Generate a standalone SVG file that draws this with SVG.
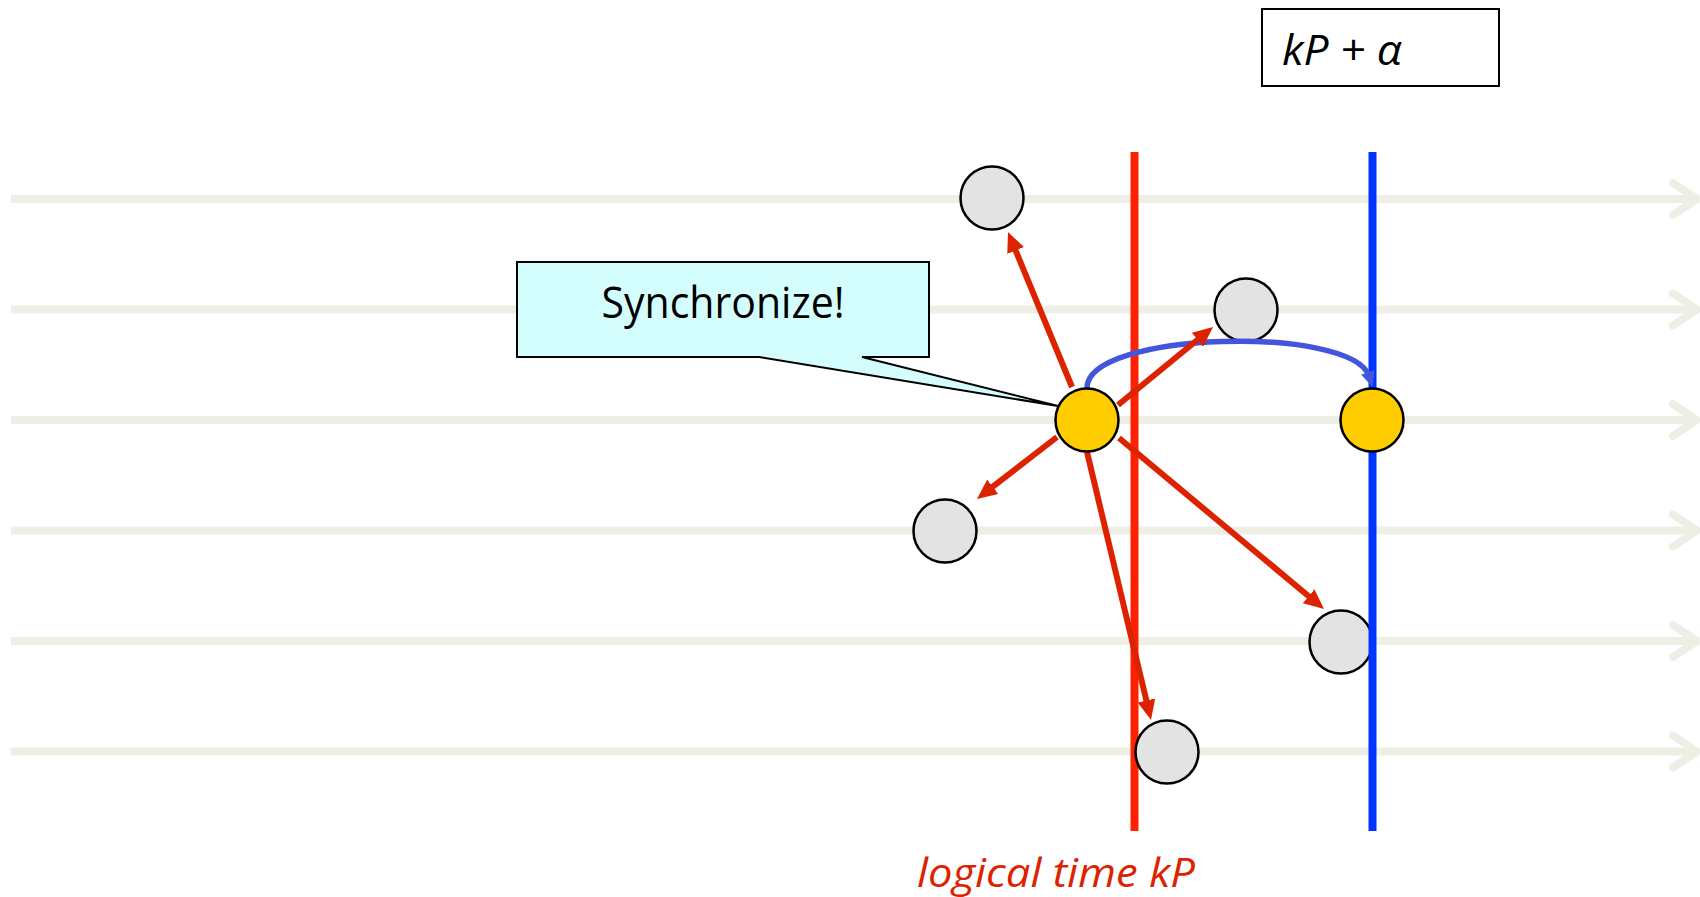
<svg xmlns="http://www.w3.org/2000/svg" xmlns:xlink="http://www.w3.org/1999/xlink" width="1700" height="897" viewBox="0 0 1700 897">
  <style>
    .lane { fill: none; stroke: #EEEEE5; stroke-width: 8; }
    .lane-tip { fill: none; stroke: #EEEEE5; stroke-width: 8; stroke-linecap: round; stroke-linejoin: round; }
    .msg { fill: none; stroke: #DD2200; stroke-width: 6; marker-end: url(#redHead); }
    .gray { fill: #E3E3E3; stroke: #000; stroke-width: 2.5; }
    .gold { fill: #FFCC00; stroke: #000; stroke-width: 2.5; }
    .lbl { font-family: "Open Sans", "Liberation Sans", sans-serif; }
  </style>
  <defs>
    <g id="laneLine">
      <path class="lane" d="M11,0 H1694"/>
      <path class="lane-tip" d="M1673,-16 L1697,0 L1673,16"/>
    </g>
    <marker id="redHead" markerUnits="userSpaceOnUse" markerWidth="20" markerHeight="18" refX="4" refY="9" orient="auto" viewBox="0 0 20 18">
      <path d="M0,0 L20,9 L0,18 Z" fill="#DD2200"/>
    </marker>
    <marker id="blueHead" markerUnits="userSpaceOnUse" markerWidth="16" markerHeight="14" refX="4" refY="7" orient="auto" viewBox="0 0 16 14">
      <path d="M0,0 L16,7 L0,14 Z" fill="#4455DD"/>
    </marker>
  </defs>

  <!-- process timelines -->
  <g id="lanes">
    <use xlink:href="#laneLine" transform="translate(0,199)"/>
    <use xlink:href="#laneLine" transform="translate(0,309.5)"/>
    <use xlink:href="#laneLine" transform="translate(0,420)"/>
    <use xlink:href="#laneLine" transform="translate(0,530.5)"/>
    <use xlink:href="#laneLine" transform="translate(0,641)"/>
    <use xlink:href="#laneLine" transform="translate(0,751.5)"/>
  </g>

  <!-- logical time kP -->
  <g id="time-kP">
    <line x1="1134.5" y1="152" x2="1134.5" y2="831" stroke="#FF2200" stroke-width="8"/>
    <text class="lbl" x="1056" y="887" text-anchor="middle" font-size="40" font-style="italic" fill="#DD2200" textLength="278" lengthAdjust="spacingAndGlyphs">logical time kP</text>
  </g>

  <!-- remote events -->
  <g id="node-top"><circle class="gray" cx="992" cy="198" r="31.5"/></g>
  <g id="node-upper"><circle class="gray" cx="1246" cy="310" r="31.5"/></g>
  <g id="node-left"><circle class="gray" cx="945" cy="531" r="31.5"/></g>
  <g id="node-bottom"><circle class="gray" cx="1167" cy="752" r="31.5"/></g>
  <g id="node-right"><circle class="gray" cx="1341" cy="642" r="31.5"/></g>

  <!-- time kP + alpha -->
  <g id="time-kP-alpha">
    <line x1="1372.5" y1="152" x2="1372.5" y2="831" stroke="#0033FF" stroke-width="8"/>
    <rect x="1262" y="9" width="237" height="77" fill="#FFFFFF" stroke="#000" stroke-width="2"/>
    <text class="lbl" x="1282" y="65" font-size="42" font-style="italic" fill="#000" textLength="120" lengthAdjust="spacingAndGlyphs">kP + α</text>
  </g>

  <!-- messages -->
  <g id="connectors">
    <path d="M1087,388 C1087,331 1352,325 1369,376" fill="none" stroke="#4455DD" stroke-width="5.5" marker-end="url(#blueHead)"/>
    <line class="msg" x1="1072" y1="387" x2="1014.1" y2="246.8"/>
    <line class="msg" x1="1118" y1="405" x2="1200.6" y2="337.2"/>
    <line class="msg" x1="1057" y1="437" x2="989.6" y2="489.2"/>
    <line class="msg" x1="1087" y1="452" x2="1147.3" y2="704.4"/>
    <line class="msg" x1="1119" y1="438" x2="1311.7" y2="598.8"/>
  </g>

  <!-- synchronising events -->
  <g id="sync-source"><circle class="gold" cx="1087" cy="420" r="31.5"/></g>
  <g id="sync-target"><circle class="gold" cx="1372" cy="420" r="31.5"/></g>

  <!-- callout -->
  <g id="callout">
    <path d="M517,262 H929 V357 H862 L1058,406 L759,357 H517 Z" fill="#D4FDFD" stroke="#000" stroke-width="2"/>
    <text class="lbl" x="723" y="318" text-anchor="middle" font-size="43" fill="#000" textLength="243" lengthAdjust="spacingAndGlyphs">Synchronize!</text>
  </g>
</svg>
